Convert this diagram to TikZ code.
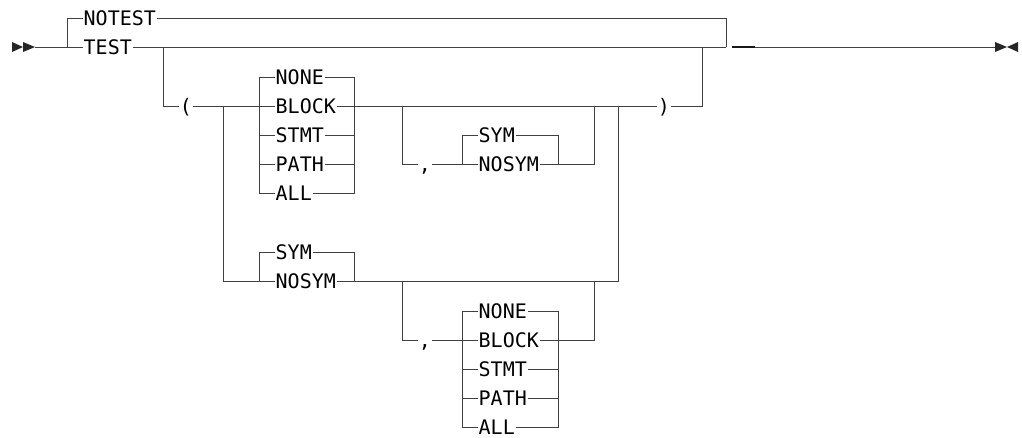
\documentclass[tikz,border=0pt]{standalone}
\usepackage{fontspec}
\newfontfamily\lblfont{DejaVu Sans Mono}
\begin{document}
\begin{tikzpicture}[x=1pt,y=-1pt,
  lbl/.style={font=\lblfont\fontsize{20}{24}\selectfont, inner xsep=1pt, inner ysep=0pt,
    text height=14.6pt, text depth=0pt, anchor=west, text=black},
  plbl/.style={lbl, anchor=center},
  rail/.style={draw=black!75, line width=1pt},
  tip/.style={fill=black!85}]
\useasboundingbox (0,0) rectangle (1022,437);
% start / end marks
\fill[tip] (12,42) -- (23,47) -- (12,52) -- cycle;
\fill[tip] (23,42) -- (35,47) -- (23,52) -- cycle;
\fill[tip] (995,42) -- (1007,47) -- (995,52) -- cycle;
\fill[tip] (1018,42) -- (1007,47) -- (1018,52) -- cycle;
\coordinate (s) at (35,47);
\coordinate (e) at (995,47);
% top level
\node[lbl] (notest) at (82.5,18) {NOTEST};
\node[lbl] (test) at (82.5,47) {TEST};
\coordinate (j1) at (67,47);
\coordinate (k1) at (726,47);
\coordinate (t1) at (732,47);
\coordinate (t2) at (755,47);
\draw[rail] (s) -- (test.west);
\draw[rail] (j1) |- (notest.west);
\draw[rail] (notest.east) -| (k1);
\draw[rail] (test.east) -- (k1);
\draw[draw=black!90, line width=2.4pt] (t1) -- (t2);
\draw[rail] (t2) -- (e);
% parenthesised part
\coordinate (b1) at (163,47);
\node[plbl] (lp) at (186,106.5) {(};
\node[plbl] (rp) at (664,106.5) {)};
\coordinate (k2) at (702,47);
\draw[rail] (b1) |- (lp.west);
\draw[rail] (rp.east) -| (k2);
\coordinate (j2) at (223,106.5);
\coordinate (ja) at (259,106.5);
\coordinate (aR) at (354,106.5);
\draw[rail] (lp.east) -- (ja);
% group A
\foreach \w [count=\i] in {NONE,BLOCK,STMT,PATH,ALL}
  \node[lbl] (a\i) at (274.5,{77.5+29*(\i-1)}) {\w};
\draw[rail] (a1.west -| ja) |- (a5.west);
\foreach \i in {1,...,4} \draw[rail] (a\i.west -| ja) -- (a\i.west);
\draw[rail] (a1.east) -| (a5.east -| aR) -- (a5.east);
\foreach \i in {2,...,4} \draw[rail] (a\i.east) -- (a\i.east -| aR);
\draw[rail] (aR) -- (rp.west);
% group B1: , SYM/NOSYM
\coordinate (j3) at (402,106.5);
\node[plbl] (c1) at (425,164.5) {,};
\node[lbl] (b1s) at (477.5,135.5) {SYM};
\node[lbl] (b2s) at (477.5,164.5) {NOSYM};
\coordinate (bL) at (462,164.5);
\coordinate (bR) at (558,164.5);
\coordinate (j4) at (594,106.5);
\draw[rail] (j3) |- (c1.west);
\draw[rail] (c1.east) -- (b2s.west);
\draw[rail] (bL) |- (b1s.west);
\draw[rail] (b1s.east) -| (bR) -- (b2s.east);
\draw[rail] (bR) -| (j4);
% second alternative
\coordinate (j5) at (618,106.5);
\node[lbl] (d1) at (274.5,252.5) {SYM};
\node[lbl] (d2) at (274.5,281.5) {NOSYM};
\coordinate (dR) at (354.5,281.5);
\draw[rail] (j2) |- (d2.west);
\draw[rail] (d1.west -| ja) |- (d2.west);
\draw[rail] (d1.west -| ja) -- (d1.west);
\draw[rail] (d1.east) -| (dR) -- (d2.east);
\draw[rail] (dR) -| (j5);
% group C
\coordinate (j6) at (402,281.5);
\node[plbl] (c2) at (425,340) {,};
\foreach \w [count=\i] in {NONE,BLOCK,STMT,PATH,ALL}
  \node[lbl] (e\i) at (477.5,{311+29*(\i-1)}) {\w};
\coordinate (cL) at (462,340);
\coordinate (cR) at (558,340);
\coordinate (j7) at (594,281.5);
\draw[rail] (j6) |- (c2.west);
\draw[rail] (c2.east) -- (e2.west);
\draw[rail] (e1.west -| cL) |- (e5.west);
\foreach \i in {1,3,4} \draw[rail] (e\i.west -| cL) -- (e\i.west);
\draw[rail] (e1.east) -| (e5.east -| cR) -- (e5.east);
\foreach \i in {2,...,4} \draw[rail] (e\i.east) -- (e\i.east -| cR);
\draw[rail] (cR) -| (j7);
\end{tikzpicture}
\end{document}
